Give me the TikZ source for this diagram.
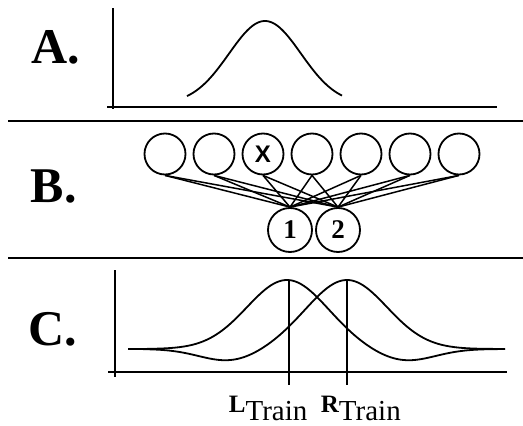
\documentclass[tikz,border=0pt]{standalone}
\usepackage{fontspec}
\setmainfont{Liberation Serif}
\setsansfont{Liberation Sans}
\begin{document}
\begin{tikzpicture}[x=1pt,y=-1pt,line width=1.8pt,
  unit/.style={draw,circle,minimum size=41pt,inner sep=0pt,font=\fontsize{24}{24}\selectfont\sffamily\bfseries},
  outunit/.style={unit,minimum size=44pt,font=\fontsize{27}{27}\selectfont\bfseries},
  panel/.style={anchor=base west,inner sep=0pt,font=\fontsize{50}{50}\selectfont\bfseries}]
  \useasboundingbox (0,0) rectangle (523,426);
  \draw (8,121) -- (523,121);
  \draw (8,258) -- (523,258);
  \node[panel] (la) at (31,63) {A.};
  \draw (113,8) -- (113,109);
  \draw (107,107) -- (497,107);
  \draw plot[domain=187:342,samples=80,smooth] (\x,{104-83*exp(-0.5*((\x-265)/36)^2)});
  \node[panel] (lb) at (30,202) {B.};
  \foreach \i in {1,...,7}
    \node[unit] (c\i) at ({116+49*\i},154) {\ifnum\i=3 X\fi};
  \node[outunit] (o1) at (290,230) {1};
  \node[outunit] (o2) at (338,230) {2};
  \foreach \i in {1,...,7}
    \foreach \j in {1,2}
      \draw[line width=1.5pt] (c\i.south) -- (o\j.north);
  \node[panel] (lc) at (28,345) {C.};
  \draw (115,270) -- (115,377);
  \draw (108,372) -- (507,372);
  \draw (128,349) -- (148,349) -- plot[domain=148:490,samples=150,smooth] (\x,{349-69*exp(-0.5*((\x-287)/40)^2)+12*exp(-((\x-405)/42)^2)}) -- (505,349);
  \draw (128,349) -- (144,349) -- plot[domain=144:486,samples=150,smooth] (\x,{349-69*exp(-0.5*((347-\x)/40)^2)+12*exp(-((229-\x)/42)^2)}) -- (505,349);
  \draw (289,280) -- (289,385);
  \draw (347,280) -- (347,385);
  \node[anchor=base west,inner sep=0pt] (lt) at (228,412)
    {{\fontsize{25}{25}\selectfont\bfseries L}\raisebox{-8pt}{\fontsize{29}{29}\selectfont Train}};
  \node[anchor=base west,inner sep=0pt] (rt) at (320,412)
    {{\fontsize{25}{25}\selectfont\bfseries R}\raisebox{-8pt}{\fontsize{29}{29}\selectfont Train}};
\end{tikzpicture}
\end{document}
